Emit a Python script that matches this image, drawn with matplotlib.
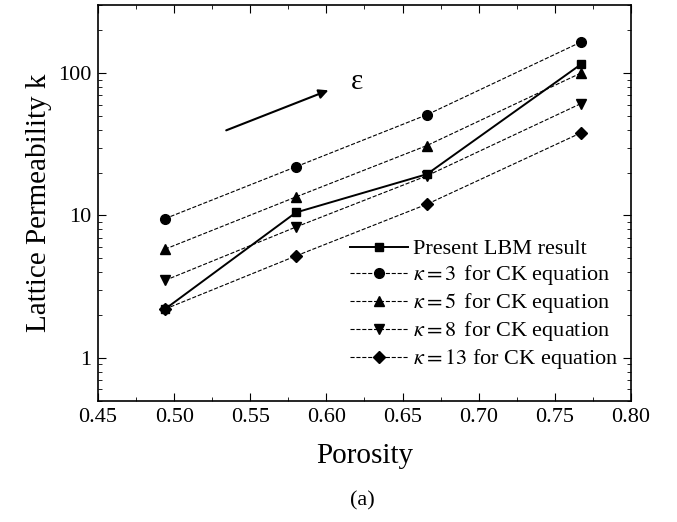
import numpy as np
import matplotlib
matplotlib.use('Agg')
from matplotlib import pyplot as plt
from matplotlib.ticker import LogLocator, FixedLocator, MultipleLocator, NullFormatter

plt.rcParams['font.family'] = ['Liberation Serif', 'DejaVu Serif']
plt.rcParams['mathtext.fontset'] = 'stix'

# Porosidad y permeabilidad
porosidad = [0.494, 0.580, 0.666, 0.767]
lbm = [2.2, 10.5, 19.5, 115]
ck_3 = [9.5, 22, 51, 165]
ck_5 = [5.8, 13.5, 31, 100]
ck_8 = [3.5, 8.3, 19, 61]
ck_13 = [2.2, 5.2, 12, 38]

etiquetas = ['Present LBM result',
             r'$\kappa = 3\,$ for CK equation',
             r'$\kappa = 5\,$ for CK equation',
             r'$\kappa = 8\,$ for CK equation',
             r'$\kappa = 13$ for CK equation']

fig = plt.figure(figsize=(6.77, 5.22), dpi=100)
ax = fig.add_axes([0.1448, 0.2324, 0.932 - 0.1448, 0.990 - 0.2324])

ax.plot(porosidad, lbm, '-s', color='black', lw=1.4, markersize=6, label=etiquetas[0])
ax.plot(porosidad, ck_3, '--o', color='black', lw=0.8, markersize=7, label=etiquetas[1])
ax.plot(porosidad, ck_5, '--^', color='black', lw=0.8, markersize=7, label=etiquetas[2])
ax.plot(porosidad, ck_8, '--v', color='black', lw=0.8, markersize=7, label=etiquetas[3])
ax.plot(porosidad, ck_13, '--D', color='black', lw=0.8, markersize=6, label=etiquetas[4])

ax.set_yscale('log')
ax.set_xlim(0.45, 0.80)
ax.set_ylim(0.5, 300)
ax.xaxis.set_major_locator(MultipleLocator(0.05))
ax.xaxis.set_minor_locator(MultipleLocator(0.025))
ax.set_xticklabels([f'{v:.2f}' for v in ax.get_xticks()])
ax.yaxis.set_major_locator(FixedLocator([1, 10, 100]))
ax.set_yticklabels(['1', '10', '100'])
ax.yaxis.set_minor_locator(LogLocator(base=10, subs=np.arange(2, 10)))
ax.yaxis.set_minor_formatter(NullFormatter())

ax.tick_params(which='both', direction='in', top=True, right=True, labelsize=16)
ax.tick_params(which='major', length=6, pad=5)
ax.tick_params(which='minor', length=3)
for s in ax.spines.values():
    s.set_linewidth(1.2)

ax.set_xlabel('Porosity', fontsize=21, labelpad=12)
ax.set_ylabel('Lattice Permeability k', fontsize=21, labelpad=4)

# flecha de tendencia
ax.annotate('', xy=(0.603, 77), xytext=(0.5325, 39),
            arrowprops=dict(arrowstyle='-|>', color='black', lw=1.5, mutation_scale=14))
ax.text(0.620, 86, 'ε', fontsize=21, ha='center', va='center')

ax.legend(loc='lower right', bbox_to_anchor=(1.005, 0.035), frameon=False, fontsize=16,
          handlelength=2.6, handletextpad=0.2, labelspacing=0.18, borderaxespad=0.3)

fig.text(0.535, 0.04, '(a)', fontsize=16, ha='center', va='center')

fig.savefig('out.png', dpi=100)
